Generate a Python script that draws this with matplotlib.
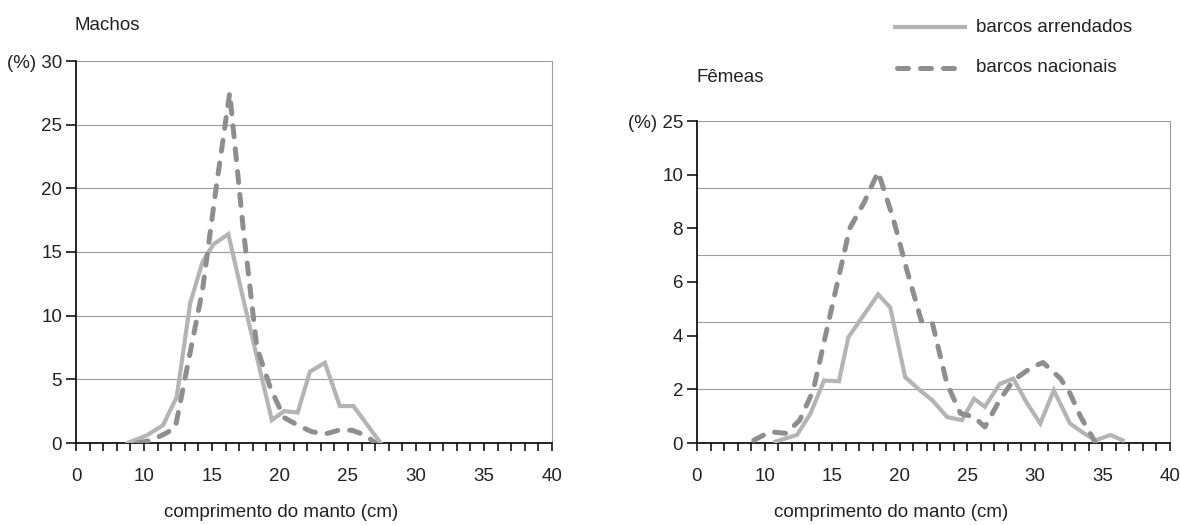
import matplotlib
matplotlib.use("Agg")
import matplotlib.pyplot as plt
from matplotlib.lines import Line2D

plt.rcParams["font.family"] = ["Liberation Sans", "DejaVu Sans"]
plt.rcParams["font.size"] = 13.5

# ---------------- dados ----------------
# Machos (posição no eixo: o rótulo "0" fica na posição 5)
machos_arr_x = [8.8, 10.2, 11.4, 12.4, 13.4, 14.3, 15.1, 16.2, 17.3, 18.4, 19.4, 20.3, 21.3, 22.2, 23.3, 24.4, 25.4, 27.4]
machos_arr_y = [0.0, 0.6, 1.4, 3.6, 11.0, 14.2, 15.6, 16.4, 11.3, 6.3, 1.8, 2.5, 2.4, 5.6, 6.3, 2.9, 2.9, 0.0]
machos_nac_x = [9.5, 10.5, 11.5, 12.3, 13.3, 14.3, 15.3, 16.3, 17.3, 18.3, 19.3, 20.3, 21.3, 22.3, 23.3, 24.3, 25.3, 26.3, 27.0]
machos_nac_y = [0.0, 0.2, 0.7, 1.2, 6.6, 12.0, 20.0, 27.5, 16.8, 7.5, 4.3, 2.0, 1.4, 0.9, 0.7, 1.0, 1.0, 0.6, 0.0]

# Fêmeas
femeas_arr_x = [10.8, 12.4, 13.4, 14.4, 15.5, 16.2, 18.4, 19.3, 20.4, 21.5, 22.4, 23.5, 24.6, 25.5, 26.3, 27.4, 28.4, 29.4, 30.4, 31.4, 32.6, 33.6, 34.5, 35.6, 36.5]
femeas_arr_y = [0.05, 0.3, 1.1, 2.33, 2.3, 3.94, 5.54, 5.05, 2.46, 1.96, 1.6, 0.97, 0.85, 1.65, 1.35, 2.2, 2.4, 1.5, 0.73, 1.96, 0.73, 0.37, 0.1, 0.3, 0.1]
femeas_nac_x = [9.2, 10.4, 11.6, 12.6, 13.6, 15.2, 16.3, 17.4, 18.4, 19.5, 20.5, 21.6, 22.4, 23.5, 24.5, 25.5, 26.3, 27.4, 28.4, 29.7, 30.6, 31.9, 32.6, 33.4, 34.5]
femeas_nac_y = [0.1, 0.42, 0.36, 0.85, 1.96, 5.55, 8.0, 9.0, 10.1, 8.4, 6.5, 4.55, 4.5, 2.2, 1.1, 0.97, 0.6, 1.6, 2.33, 2.8, 3.0, 2.4, 1.85, 0.97, 0.0]

x_tick_pos = [5, 10, 15, 20, 25, 30, 35, 40]
x_tick_lab = ["0", "10", "15", "20", "25", "30", "35", "40"]

machos_yticks = [0, 5, 10, 15, 20, 25, 30]
machos_ylabels = ["0", "5", "10", "15", "20", "25", "(%) 30"]
machos_grid = [5, 10, 15, 20, 25, 30]

femeas_yticks = [0, 2, 4, 6, 8, 10, 12]
femeas_ylabels = ["0", "2", "4", "6", "8", "10", "(%) 25"]
femeas_grid = [2, 4.5, 7, 9.5, 12]

COR_ARR = "#b4b4b4"
COR_NAC = "#8e8e8e"
COR_GRID = "#9c9c9c"
COR_TXT = "#222222"
FS = 13.5

W, H = 1180, 525
fig = plt.figure(figsize=(W / 100, H / 100), dpi=100)


def px_axes(x0, y0, x1, y1):
    return fig.add_axes([x0 / W, 1 - y1 / H, (x1 - x0) / W, (y1 - y0) / H])


def montar(ax, ymax, yticks, ylabels, grid, label_x, label_y):
    ax.set_xlim(5, 40)
    ax.set_ylim(0, ymax)
    for g in grid:
        ax.axhline(g, color=COR_GRID, lw=0.8, zorder=1)
    ax.spines["top"].set_visible(False)
    ax.spines["right"].set_color(COR_GRID)
    ax.spines["right"].set_linewidth(0.8)
    ax.spines["left"].set_linewidth(1.2)
    ax.spines["bottom"].set_linewidth(1.2)
    ax.set_xticks(x_tick_pos)
    ax.set_xticklabels(x_tick_lab)
    ax.set_xticks(range(5, 41), minor=True)
    ax.tick_params(axis="x", which="both", direction="out", length=6, width=1.1, pad=12,
                   labelsize=FS, labelcolor=COR_TXT)
    ax.set_yticks(yticks)
    ax.set_yticklabels(ylabels)
    ax.tick_params(axis="y", direction="out", length=7, width=1.1, pad=3,
                   labelsize=FS, labelcolor=COR_TXT)
    ax.set_xlabel("comprimento do manto (cm)", fontsize=FS, color=COR_TXT)
    ax.xaxis.set_label_coords(label_x, label_y)
    ax.set_facecolor("none")


def linhas(ax, xa, ya, xn, yn):
    la, = ax.plot(xa, ya, color=COR_ARR, lw=3.0, solid_joinstyle="miter", zorder=3)
    ln, = ax.plot(xn, yn, color=COR_NAC, lw=3.6, dashes=(2.2, 2.4),
                  dash_capstyle="round", zorder=4)
    return la, ln


ax1 = px_axes(76, 61, 552, 443)
montar(ax1, 30, machos_yticks, machos_ylabels, machos_grid, 0.43, -0.16)
linhas(ax1, machos_arr_x, machos_arr_y, machos_nac_x, machos_nac_y)

ax2 = px_axes(697, 121, 1170, 443)
montar(ax2, 12, femeas_yticks, femeas_ylabels, femeas_grid, 0.41, -0.19)
linhas(ax2, femeas_arr_x, femeas_arr_y, femeas_nac_x, femeas_nac_y)

fig.text(75 / W, 1 - 25 / H, "Machos", ha="left", va="center", fontsize=FS, color=COR_TXT)
fig.text(697 / W, 1 - 77 / H, "Fêmeas", ha="left", va="center", fontsize=FS, color=COR_TXT)

# legenda
fig.add_artist(Line2D([895 / W, 965 / W], [1 - 27 / H, 1 - 27 / H], color=COR_ARR, lw=3.0))
fig.add_artist(Line2D([897 / W, 965 / W], [1 - 68 / H, 1 - 68 / H], color=COR_NAC, lw=3.6,
                      dashes=(2.2, 2.4), dash_capstyle="round"))
fig.text(976 / W, 1 - 27 / H, "barcos arrendados", ha="left", va="center", fontsize=FS, color=COR_TXT)
fig.text(976 / W, 1 - 68 / H, "barcos nacionais", ha="left", va="center", fontsize=FS, color=COR_TXT)

fig.savefig("out.png", dpi=100, facecolor="white")
